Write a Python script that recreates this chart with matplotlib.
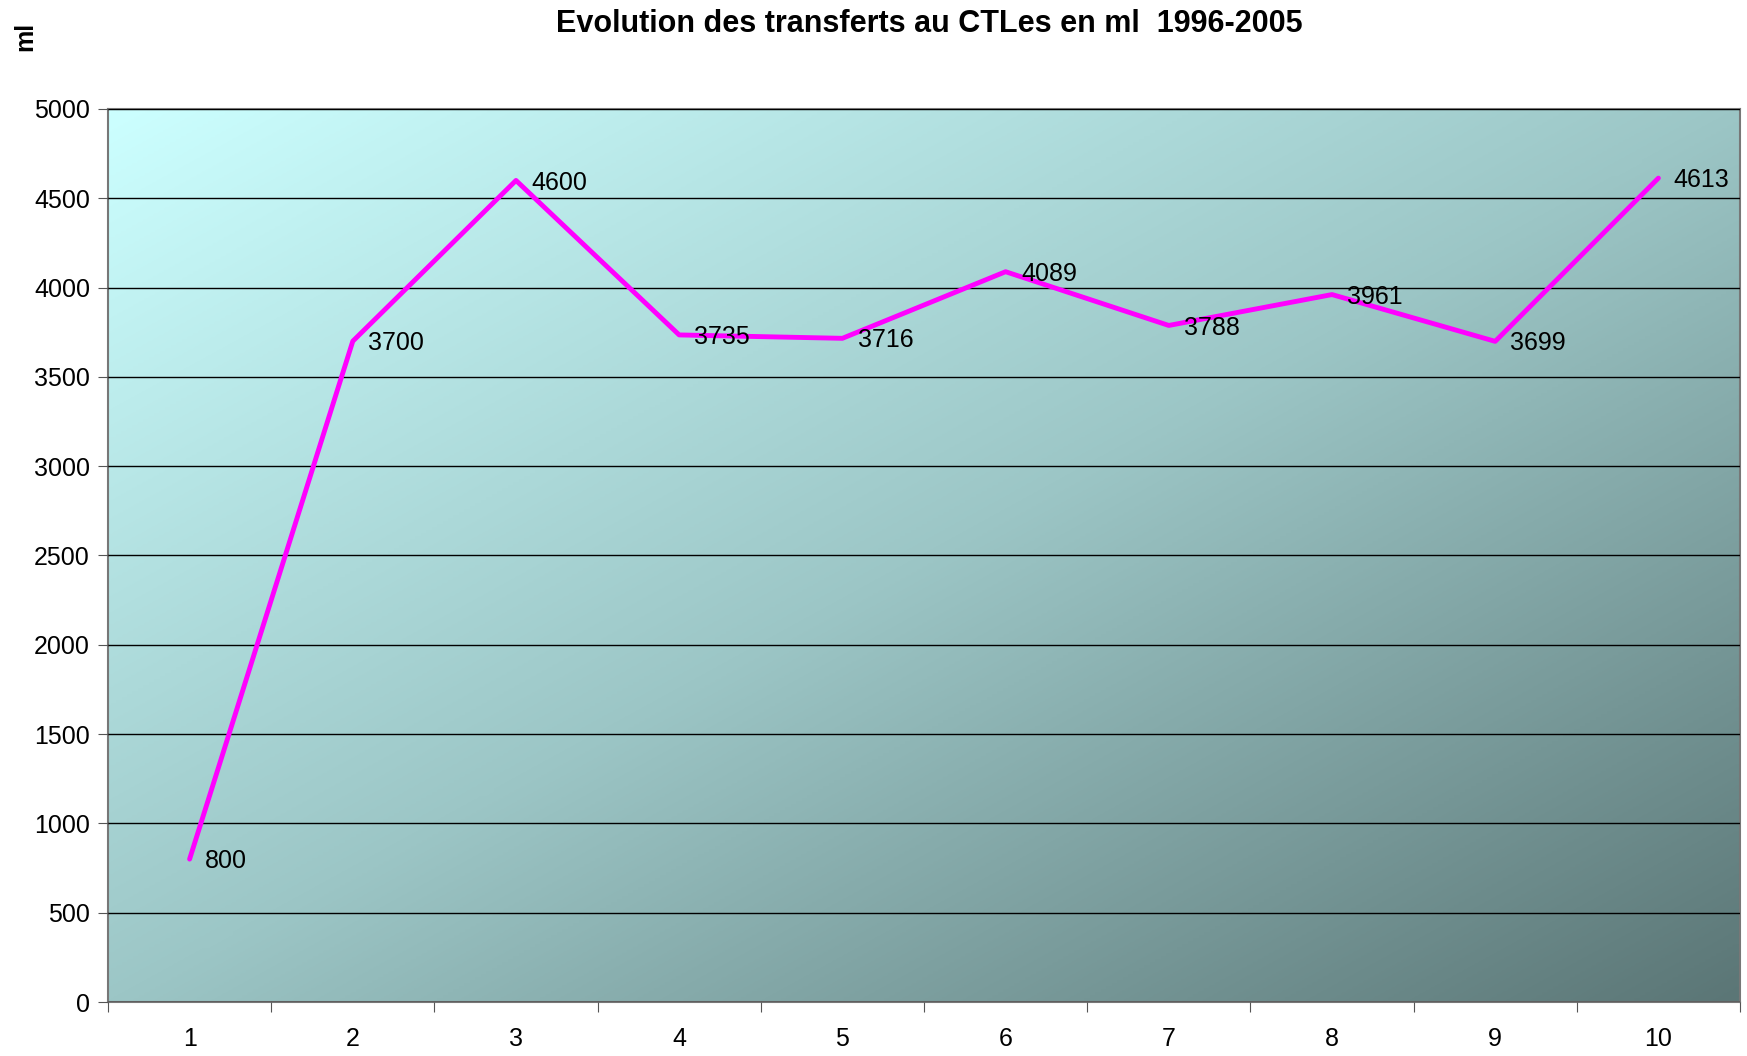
# line chart: transferts au CTLes 1996-2005
import numpy as np
import matplotlib.pyplot as plt
from matplotlib.colors import LinearSegmentedColormap

plt.rcParams['font.family'] = ['Liberation Sans', 'DejaVu Sans']

categories = [1, 2, 3, 4, 5, 6, 7, 8, 9, 10]
values = [800, 3700, 4600, 3735, 3716, 4089, 3788, 3961, 3699, 4613]
yticks = [0, 500, 1000, 1500, 2000, 2500, 3000, 3500, 4000, 4500, 5000]

fig = plt.figure(figsize=(17.47, 10.56), dpi=100)
ax = fig.add_axes([108/1747, 1-1002/1056, 1632/1747, 893/1056])

# diagonal gradient background
n = 300
xx, yy = np.meshgrid(np.linspace(0, 1, n), np.linspace(0, 1, n))
grad = (xx + yy) / 2
cmap = LinearSegmentedColormap.from_list('bg', ['#ccffff', '#9cc6c6', '#5b7676'])
ax.imshow(grad, cmap=cmap, extent=[0, 1, 0, 1], transform=ax.transAxes,
          aspect='auto', zorder=0, interpolation='bilinear')

ax.set_xlim(0.5, 10.5)
ax.set_ylim(0, 5000)
ax.set_yticks(yticks)
ax.yaxis.grid(True, color='black', linewidth=1)
ax.set_axisbelow(False)

# category axis: ticks between categories, labels centred
ax.set_xticks(np.arange(0.5, 11, 1))
ax.set_xticklabels([])
ax.set_xticks(categories, minor=True)
ax.set_xticklabels([str(c) for c in categories], minor=True)
ax.tick_params(axis='x', which='minor', length=0, pad=18, labelsize=18)
ax.tick_params(axis='x', which='major', length=7, color='#555555')
ax.tick_params(axis='y', length=7, color='#555555', labelsize=18, pad=6)

for s in ax.spines.values():
    s.set_color('#777777')
    s.set_linewidth(1.5)

ax.plot(categories, values, color='#ff00ff', linewidth=3.5, zorder=3,
        solid_capstyle='round', clip_on=False)
for c, v in zip(categories, values):
    ax.annotate(str(v), (c, v), xytext=(11, -1.5), textcoords='offset points',
                va='center', ha='left', fontsize=18, zorder=4)

fig.text(929/1747, 1-24/1056, 'Evolution des transferts au CTLes en ml  1996-2005',
         ha='center', va='center', fontsize=22, fontweight='bold')
fig.text(25/1747, 1-36/1056, 'ml', rotation=90, ha='center', va='center',
         fontsize=18, fontweight='bold')

fig.savefig('out.png', dpi=100)
